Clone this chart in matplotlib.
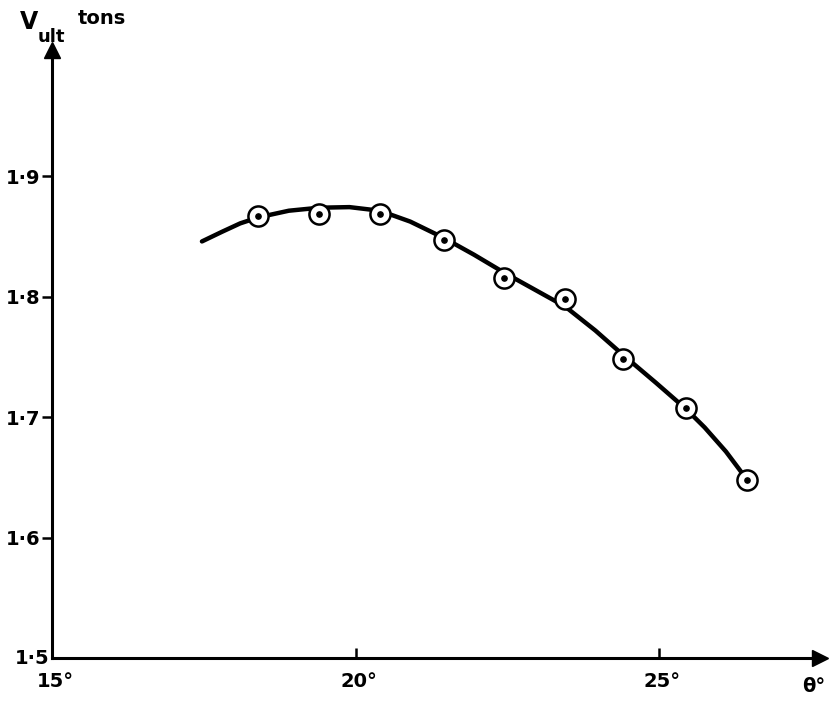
import matplotlib
matplotlib.use("Agg")
import matplotlib.pyplot as plt

# measured points
theta = [18.4, 19.4, 20.4, 21.45, 22.45, 23.45, 24.4, 25.45, 26.45]
v_ult = [1.867, 1.869, 1.869, 1.847, 1.816, 1.798, 1.748, 1.708, 1.648]

# drawn smooth curve
curve_theta = [17.47, 17.8, 18.1, 18.4, 18.9, 19.4, 19.9, 20.4, 20.9, 21.45,
               21.95, 22.45, 22.95, 23.45, 23.95, 24.4, 24.95, 25.45, 25.75, 26.1, 26.45]
curve_v = [1.846, 1.854, 1.861, 1.866, 1.8715, 1.874, 1.8745, 1.8715, 1.8625, 1.849,
           1.835, 1.820, 1.806, 1.792, 1.772, 1.752, 1.7285, 1.7065, 1.6915, 1.6715, 1.648]

xticks = [15, 20, 25]
xtick_labels = ["15°", "20°", "25°"]
yticks = [1.5, 1.6, 1.7, 1.8, 1.9]
ytick_labels = ["1·5", "1·6", "1·7", "1·8", "1·9"]

fig = plt.figure(figsize=(8.4, 7.02), dpi=100)
ax = fig.add_axes([52 / 840, 44 / 702, 768 / 840, 608 / 702])
ax.set_xlim(15, 27.65)
ax.set_ylim(1.5, 2.005)

for s in ["top", "right"]:
    ax.spines[s].set_visible(False)
for s in ["left", "bottom"]:
    ax.spines[s].set_linewidth(2.2)
    ax.spines[s].set_color("black")

# arrow heads
ax.plot([1], [0], marker=">", markersize=11, color="black",
        transform=ax.transAxes, clip_on=False)
ax.plot([0], [1], marker="^", markersize=11, color="black",
        transform=ax.transAxes, clip_on=False)

ax.plot(curve_theta, curve_v, color="black", lw=3.2, solid_capstyle="round",
        solid_joinstyle="round", zorder=2)
ax.plot(theta, v_ult, linestyle="none", marker="o", markersize=14.5,
        markerfacecolor="white", markeredgecolor="black", markeredgewidth=1.8, zorder=3)
ax.plot(theta, v_ult, linestyle="none", marker="o", markersize=3.8,
        color="black", zorder=4)

fs = 14
fw = "bold"
ax.set_xticks(xticks[1:])
ax.set_xticklabels([])
ax.tick_params(axis="x", direction="in", length=7, width=1.8, pad=4)
ax.set_yticks(yticks[1:])
ax.set_yticklabels(ytick_labels[1:], fontsize=fs, fontweight=fw)
ax.tick_params(axis="y", direction="out", length=7, width=1.8, pad=1.5)

for x, lab in zip(xticks, xtick_labels):
    ax.text(x + 0.05, 1.5 - 0.012, lab, ha="center", va="top", fontsize=fs, fontweight=fw)
ax.text(14.95, 1.5, ytick_labels[0], ha="right", va="center", fontsize=fs, fontweight=fw)
ax.text(27.55, 1.5 - 0.016, "θ°", ha="center", va="top", fontsize=fs, fontweight=fw)

fig.text(20 / 840, 1 - 22 / 702, "V", ha="left", va="center", fontsize=17, fontweight=fw)
fig.text(38 / 840, 1 - 37 / 702, "ult", ha="left", va="center", fontsize=13, fontweight=fw)
fig.text(78 / 840, 1 - 18 / 702, "tons", ha="left", va="center", fontsize=14, fontweight=fw)

fig.savefig("out.png", dpi=100)
